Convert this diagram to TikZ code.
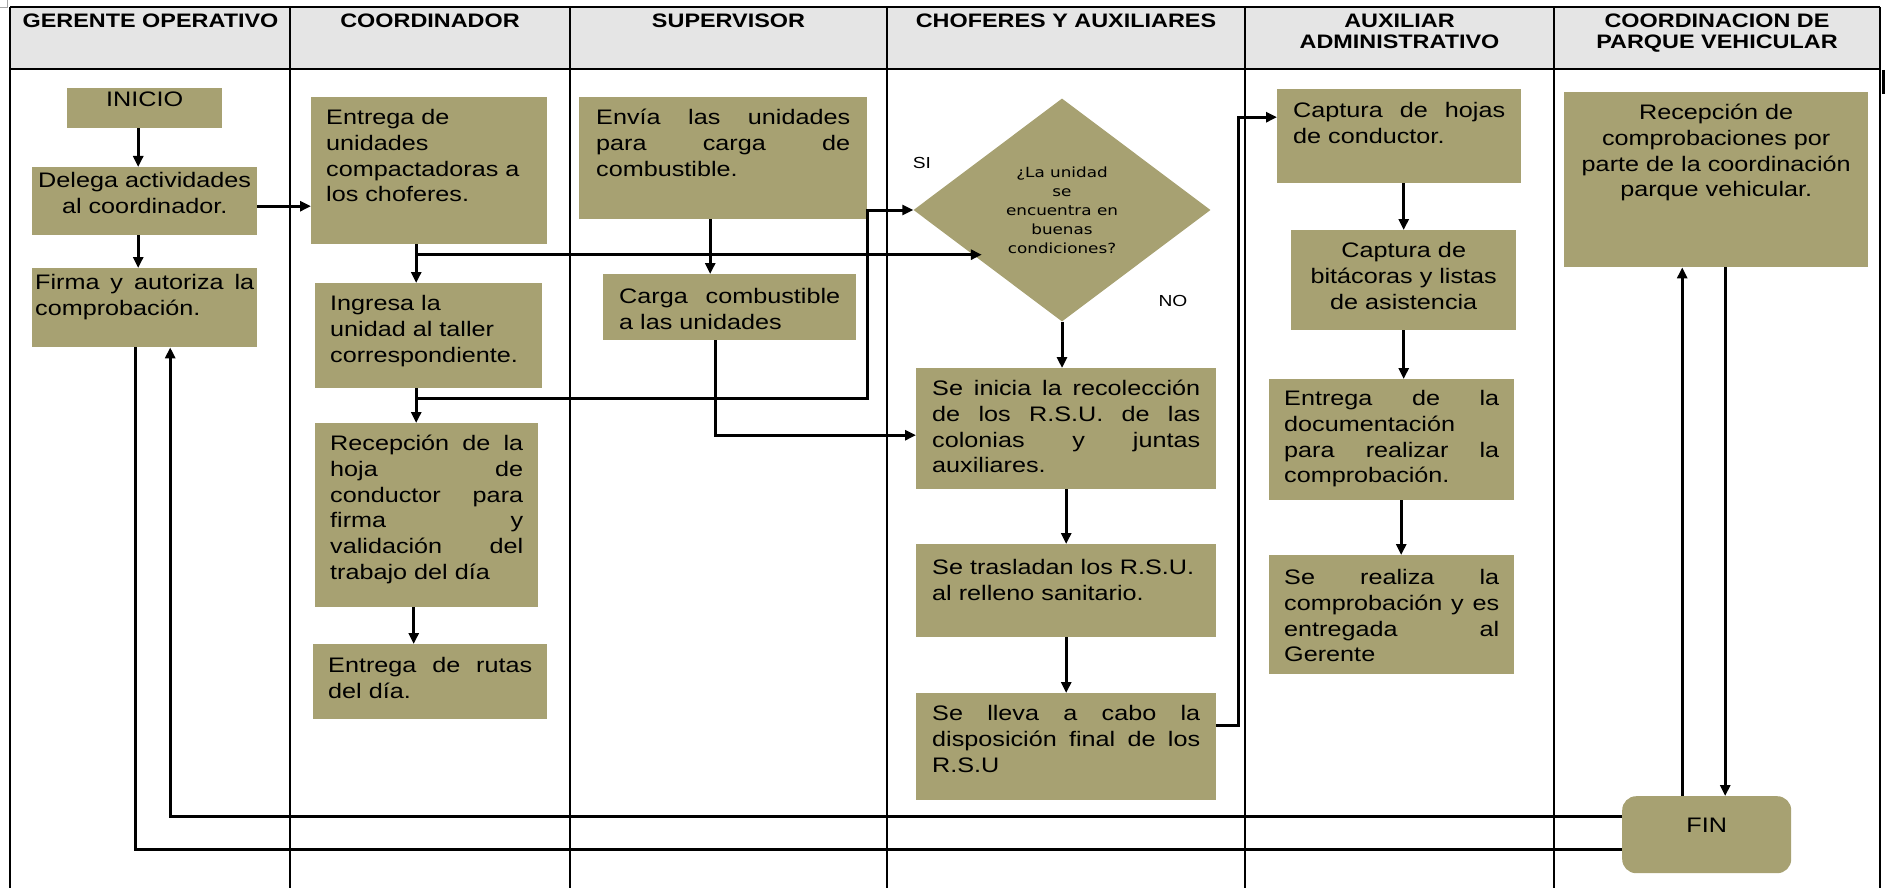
\documentclass[tikz,border=0pt]{standalone}
\usepackage{fontspec}
\setmainfont{Liberation Sans}[FakeStretch=1.2]
\newfontfamily\rombofont{DejaVu Sans}[FakeStretch=1.2]
\usetikzlibrary{shapes.geometric,arrows.meta,calc}
\definecolor{oliva}{RGB}{167,161,114}
\definecolor{grisenc}{RGB}{229,229,229}
\newcommand{\cuerpo}{\fontsize{21}{25.7}\selectfont}
\newcommand{\encab}{\fontsize{19.5}{21}\selectfont\bfseries}
\newcommand{\etiq}{\fontsize{16}{18}\selectfont}
\frenchspacing
\hyphenpenalty=10000
\exhyphenpenalty=10000
\begin{document}
\begin{tikzpicture}[x=1pt,y=-1pt,
    caja/.style={fill=oliva, anchor=north west, inner xsep=15pt, inner ysep=0pt, font=\cuerpo},
    titulo/.style={anchor=north, inner sep=0pt, align=center, font=\encab, text height=14.5pt},
    flecha/.style={line width=3pt, -{Triangle[length=11pt,width=10pt]}},
    conector/.style={line width=3pt},
    linea/.style={line width=1.5pt}]
        \useasboundingbox (0,0) rectangle (1885,888);
        % Table
        \fill[grisenc] (10,7) rectangle (1880,69);
        \draw[gray!70, line width=0.8pt] (7,0) -- (7,7) -- (0,7);
        \draw[line width=2pt] (10,7) -- (1880,7);
        \draw[line width=2pt] (10,69) -- (1880,69);
        \foreach \x in {10,290,570,887,1245,1554,1880}
            \draw[linea] (\x,7) -- (\x,888);
        \draw[line width=3pt] (1883,70) -- (1883,94);
        % Headers
        \node[titulo, text width=270pt] (hgerente) at (150.5,13) {GERENTE OPERATIVO};
        \node[titulo, text width=270pt] (hcoord) at (430,13) {COORDINADOR};
        \node[titulo, text width=307pt] (hsuper) at (728.5,13) {SUPERVISOR};
        \node[titulo, text width=348pt] (hchofer) at (1066,13) {CHOFERES Y AUXILIARES};
        \node[titulo, text width=299pt] (haux) at (1399.5,13) {AUXILIAR\\ADMINISTRATIVO};
        \node[titulo, text width=316pt] (hparque) at (1717,13) {COORDINACION DE\\PARQUE VEHICULAR};
        % Gerente operativo
        \node[caja, text width=125pt, text height=18.5pt, text depth=21.5pt, align=center] (inicio) at (67,88) {INICIO};
        \node[caja, inner xsep=4pt, text width=217pt, text height=20.5pt, text depth=47.5pt, align=center] (delega) at (32,167) {Delega actividades\\al coordinador.};
        \node[caja, inner xsep=3pt, text width=219pt, text height=21.5pt, text depth=57.5pt, align=justify] (firma) at (32,268) {Firma y autoriza la\linebreak comprobación.};
        % Coordinador
        \node[caja, text width=206pt, text height=27.5pt, text depth=119.5pt, align=left] (entrega) at (311,97) {Entrega de\\unidades\\compactadoras a\\los choferes.};
        \node[caja, text width=197pt, text height=27.5pt, text depth=77.5pt, align=left] (ingresa) at (315,283) {Ingresa la\\unidad al taller\\correspondiente.};
        \node[caja, text width=193pt, text height=27.5pt, text depth=156.5pt, align=justify] (recepcion) at (315,423) {Recepción de la\linebreak hoja de\linebreak conductor para\linebreak firma y\linebreak validación del\linebreak trabajo del día};
        \node[caja, text width=204pt, text height=28.5pt, text depth=46.5pt, align=justify] (rutas) at (313,644) {Entrega de rutas\linebreak del día.};
        % Supervisor
        \node[caja, inner xsep=17pt, text width=254pt, text height=27.5pt, text depth=94.5pt, align=justify] (envia) at (579,97) {Envía las unidades\linebreak para carga de\linebreak combustible.};
        \node[caja, inner xsep=16pt, text width=221pt, text height=29.5pt, text depth=36.5pt, align=justify] (carga) at (603,274) {Carga combustible\linebreak a las unidades};
        % Choferes y auxiliares
        \node[diamond, fill=oliva, minimum width=297pt, minimum height=223pt, inner sep=0pt, align=center,
              font=\rombofont\fontsize{14}{19}\selectfont] (diamante) at (1062,210) {¿La unidad\\se\\encuentra en\\buenas\\condiciones?};
        \node[font=\etiq] (si) at (922,163) {SI};
        \node[font=\etiq] (no) at (1173,301) {NO};
        \node[caja, inner xsep=16pt, text width=268pt, text height=27.5pt, text depth=93.5pt, align=justify] (seinicia) at (916,368) {Se inicia la recolección\linebreak de los R.S.U. de las\linebreak colonias y juntas\linebreak auxiliares.};
        \node[caja, inner xsep=16pt, text width=268pt, text height=30.5pt, text depth=62.5pt, align=left] (trasladan) at (916,544) {Se trasladan los R.S.U.\\al relleno sanitario.};
        \node[caja, inner xsep=16pt, text width=268pt, text height=27.5pt, text depth=79.5pt, align=justify] (sellevar) at (916,693) {Se lleva a cabo la\linebreak disposición final de los\linebreak R.S.U};
        % Auxiliar administrativo
        \node[caja, inner xsep=16pt, text width=212pt, text height=28.5pt, text depth=65.5pt, align=justify] (capturah) at (1277,89) {Captura de hojas\linebreak de conductor.};
        \node[caja, text width=195pt, text height=27.5pt, text depth=72.5pt, align=center] (capturab) at (1291,230) {Captura de\\bitácoras y listas\\de asistencia};
        \node[caja, text width=215pt, text height=26.5pt, text depth=94.5pt, align=justify] (entregadoc) at (1269,379) {Entrega de la\linebreak documentación\linebreak para realizar la\linebreak comprobación.};
        \node[caja, text width=215pt, text height=29.5pt, text depth=89.5pt, align=justify] (serealiza) at (1269,555) {Se realiza la\linebreak comprobación y es\linebreak entregada al\linebreak Gerente};
        % Coordinacion de parque vehicular
        \node[caja, inner xsep=10pt, text width=284pt, text height=27.5pt, text depth=147.5pt, align=center] (recepcomp) at (1564,92) {Recepción de\\comprobaciones por\\parte de la coordinación\\parque vehicular.};
        \node[caja, rounded corners=14pt, text width=139pt, text height=36.5pt, text depth=40.5pt, align=center] (fin) at (1622,796) {FIN};
        % Connectors
        \coordinate (entrada) at ($(diamante.west)!0.4!(diamante.south)+(9,0)$);
        \draw[flecha] ([xshift=-6.5pt]inicio.south) -- ([xshift=-6.5pt]inicio.south |- delega.north);
        \draw[flecha] ([xshift=-6.5pt]delega.south) -- ([xshift=-6.5pt]delega.south |- firma.north);
        \draw[flecha] ([yshift=-5pt]delega.east) -- ([yshift=-5pt]delega.east -| entrega.west);
        \draw[flecha] ([xshift=-13pt]entrega.south) -- ([xshift=-13pt]entrega.south |- ingresa.north);
        \draw[flecha] ([xshift=-13pt]entrega.south |- entrada) -- (entrada);
        \draw[flecha] ([xshift=-12.5pt]ingresa.south) -- ([xshift=-12.5pt]ingresa.south |- recepcion.north);
        \draw[flecha] ([xshift=-12.5pt,yshift=-10pt]ingresa.south) -| ([xshift=-46pt]diamante.west) -- (diamante.west);
        \draw[flecha] ([xshift=-13pt]recepcion.south) -- ([xshift=-13pt]recepcion.south |- rutas.north);
        \draw[flecha] ([xshift=-13pt]envia.south) -- ([xshift=-13pt]envia.south |- carga.north);
        \draw[flecha] ([xshift=-14.5pt]carga.south) |- ([yshift=-6.5pt]seinicia.west);
        \draw[flecha] (diamante.south) -- (diamante.south |- seinicia.north);
        \draw[flecha] (seinicia.south) -- (trasladan.north);
        \draw[flecha] (trasladan.south) -- (sellevar.north);
        \draw[flecha] ([yshift=21.5pt]sellevar.east) -- ++(22,0) |- ([yshift=19pt]capturah.west);
        \draw[flecha] (capturah.south -| capturab.north) -- (capturab.north);
        \draw[flecha] (capturab.south) -- (capturab.south |- entregadoc.north);
        \draw[flecha] ([xshift=9.5pt]entregadoc.south) -- ([xshift=9.5pt]serealiza.north);
        \draw[flecha] ([xshift=-24.5pt]fin.north) -- ([xshift=-24.5pt]fin.north |- recepcomp.south);
        \draw[flecha] ([xshift=18.5pt]fin.north |- recepcomp.south) -- ([xshift=18.5pt]fin.north);
        \draw[flecha] ([yshift=18.5pt]fin.west) -| ([xshift=25.5pt]firma.south);
        \draw[conector] ([xshift=-9.5pt]firma.south) |- ([yshift=-14.5pt]fin.west);
\end{tikzpicture}
\end{document}
